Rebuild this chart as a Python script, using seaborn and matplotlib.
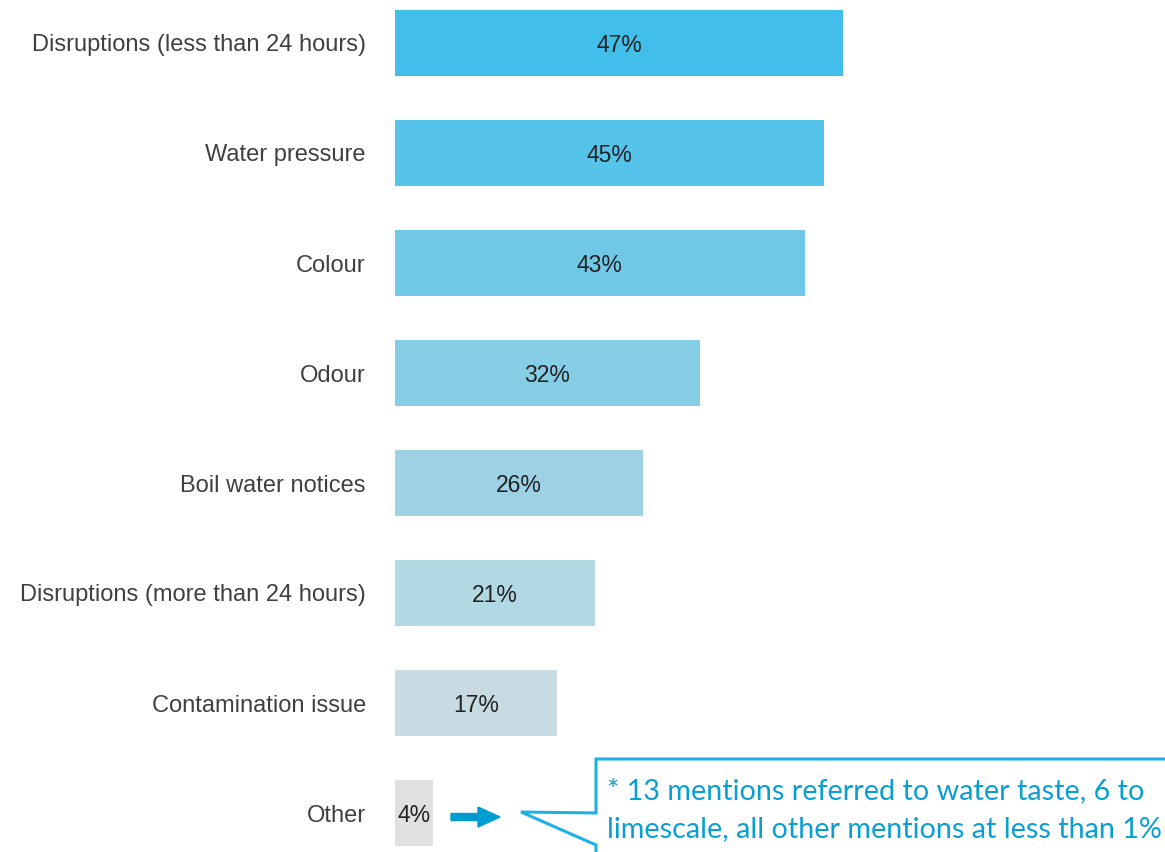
import matplotlib
matplotlib.use("Agg")
import matplotlib.pyplot as plt
from matplotlib.patches import FancyArrow
from matplotlib.lines import Line2D
import seaborn as sns
import pandas as pd

categories = [
    "Disruptions (less than 24 hours)",
    "Water pressure",
    "Colour",
    "Odour",
    "Boil water notices",
    "Disruptions (more than 24 hours)",
    "Contamination issue",
    "Other",
]
shares = [47, 45, 43, 32, 26, 21, 17, 4]
bar_colors = ["#42BEEA", "#56C3EA", "#6FC8E6", "#86CEE6",
              "#9DD2E4", "#B2D8E3", "#C8DAE2", "#E0E0E0"]
note_lines = ["* 13 mentions referred to water taste, 6 to",
              "limescale, all other mentions at less than 1%"]

sns.set_theme(style="white")
plt.rcParams["font.family"] = ["Liberation Sans", "DejaVu Sans"]

df = pd.DataFrame({"category": categories, "share": shares})

fig = plt.figure(figsize=(11.65, 8.52), dpi=100)
W, H = 1165, 852
ax = fig.add_axes([395 / W, 0, 1 - 395 / W, 1])

sns.barplot(data=df, y="category", x="share", hue="category",
            palette=bar_colors, order=categories, hue_order=categories,
            width=0.6, legend=False, ax=ax, saturation=1, linewidth=0)

ax.set_xlim(0, 770 / 9.53)
ax.set_ylim((852 - 43) / 110, -43 / 110)
ax.set_xlabel("")
ax.set_ylabel("")
ax.set_xticks([])
ax.tick_params(axis="y", length=0, pad=21, labelsize=17, labelcolor="#404040")
for s in ax.spines.values():
    s.set_visible(False)

for i, v in enumerate(shares):
    ax.text(v / 2, i, f"{v}%", ha="center", va="center_baseline",
            fontsize=16.5, color="#222222")

# arrow pointing from the "Other" bar towards the note
def fx(px):
    return px / W

def fy(py):
    return 1 - py / H

fig.patches.append(FancyArrow(fx(451), fy(817), fx(500) - fx(451), 0,
                              width=7 / H, head_width=20 / H,
                              head_length=22 / W, length_includes_head=True,
                              color="#009BD1", transform=fig.transFigure))

# speech-bubble outline around the note
line_color = "#1DB1E6"
lw = 2.2
pts = [(1170, 759), (596, 759), (596, 813), (521, 812), (596, 845), (596, 860)]
xs = [fx(p[0]) for p in pts]
ys = [fy(p[1]) for p in pts]
fig.add_artist(Line2D(xs, ys, color=line_color, lw=lw,
                      solid_joinstyle="miter", transform=fig.transFigure))

for k, line in enumerate(note_lines):
    fig.text(fx(607), fy(791 + 38 * k), line, ha="left", va="center",
             fontsize=20.7, color="#0A9FD3",
             family=["Lato", "DejaVu Sans"])

fig.savefig("out.png", dpi=100)
